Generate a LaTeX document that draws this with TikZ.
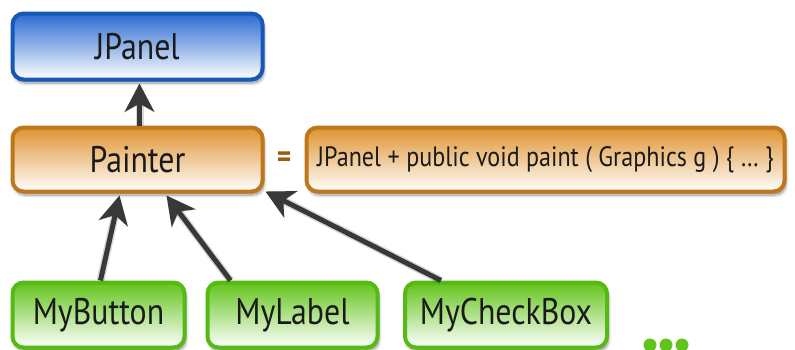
\documentclass[tikz,border=0pt]{standalone}
\usepackage{fontspec}
\setmainfont{PT Sans}[FakeStretch=0.86]
\usetikzlibrary{arrows.meta,shadows.blur,calc}

\definecolor{jblueline}{HTML}{1558B8}
\definecolor{jbluefill}{HTML}{2A6CD0}
\definecolor{orangeline}{HTML}{BE771A}
\definecolor{orangefill}{HTML}{DF9330}
\definecolor{greenline}{HTML}{55BA14}
\definecolor{greenfill}{HTML}{62C41A}
\definecolor{arrowgray}{HTML}{383838}
\definecolor{txt}{HTML}{1A1A1A}

\tikzset{
  classbox/.style={draw, line width=4pt, rounded corners=11pt, inner sep=0pt,
    text=txt, font=\fontsize{37}{40}\selectfont,
    blur shadow={shadow blur steps=6, shadow xshift=1.5pt, shadow yshift=-3.5pt,
      shadow opacity=45, shadow blur radius=3pt}},
  bluebox/.style={classbox, draw=jblueline, top color=jbluefill,
    middle color=jbluefill!45, bottom color=white},
  orangebox/.style={classbox, draw=orangeline, top color=orangefill,
    middle color=orangefill!40, bottom color=white},
  greenbox/.style={classbox, draw=greenline, top color=greenfill,
    middle color=greenfill!45, bottom color=white},
  inherit/.style={draw=arrowgray, line width=5pt,
    -{Stealth[length=28pt, width=29pt, inset=8pt]}},
  inheritshadow/.style={draw=black, opacity=0.15, line width=8pt,
    -{Stealth[length=29pt, width=31pt, inset=8pt]}, shift={(3pt,3pt)}},
  moredot/.style={fill=greenfill, draw=none}
}

\begin{document}
\begin{tikzpicture}[x=1pt, y=-1pt]
  \useasboundingbox (0,0) rectangle (795,349);

  % class boxes
  \node[bluebox, minimum width=250pt, minimum height=66pt] (jpanel) at (137.5,46.5) {JPanel};
  \node[orangebox, minimum width=250pt, minimum height=64pt] (painter) at (137.5,159.5) {Painter};
  \node[orangebox, minimum width=478pt, minimum height=64pt,
        font=\fontsize{28}{32}\selectfont] (def) at (545.5,159.5)
        {JPanel + public void paint ( Graphics g ) \{ … \}};
  \node[text=orangeline!80!black, font=\bfseries\fontsize{32}{34}\selectfont,
        inner sep=0pt] (eq) at (284,160) {=};

  \node[greenbox, minimum width=172pt, minimum height=65pt] (button) at (98.5,315) {MyButton};
  \node[greenbox, minimum width=170pt, minimum height=65pt] (label) at (292.5,315) {MyLabel};
  \node[greenbox, minimum width=202pt, minimum height=65pt] (check) at (506,315) {MyCheckBox};

  % arrow end points on the boxes
  \coordinate (pTop)   at ([xshift=129pt]painter.north west);
  \coordinate (jBot)   at ([xshift=129pt, yshift=-2pt]jpanel.south west);
  \coordinate (bTop)   at ([xshift=90pt]button.north west);
  \coordinate (bTip)   at ([xshift=109pt, yshift=-2pt]painter.south west);
  \coordinate (lTop)   at ([xshift=25pt]label.north west);
  \coordinate (lTip)   at ([xshift=156pt, yshift=-2pt]painter.south west);
  \coordinate (cTop)   at ([xshift=38pt]check.north west);
  \coordinate (cTip)   at ([xshift=255pt, yshift=2pt]painter.south west);

  % soft shadows of the inheritance arrows
  \draw[inheritshadow] (pTop) -- (jBot);
  \draw[inheritshadow] (bTop) -- (bTip);
  \draw[inheritshadow] (lTop) -- (lTip);
  \draw[inheritshadow] (cTop) -- (cTip);

  % inheritance arrows
  \draw[inherit] (pTop) -- (jBot);
  \draw[inherit] (bTop) -- (bTip);
  \draw[inherit] (lTop) -- (lTip);
  \draw[inherit] (cTop) -- (cTip);

  % further subclasses
  \fill[moredot] (650,345) circle (6.5pt);
  \fill[moredot] (666,345) circle (6.5pt);
  \fill[moredot] (682,345) circle (6.5pt);
\end{tikzpicture}
\end{document}
